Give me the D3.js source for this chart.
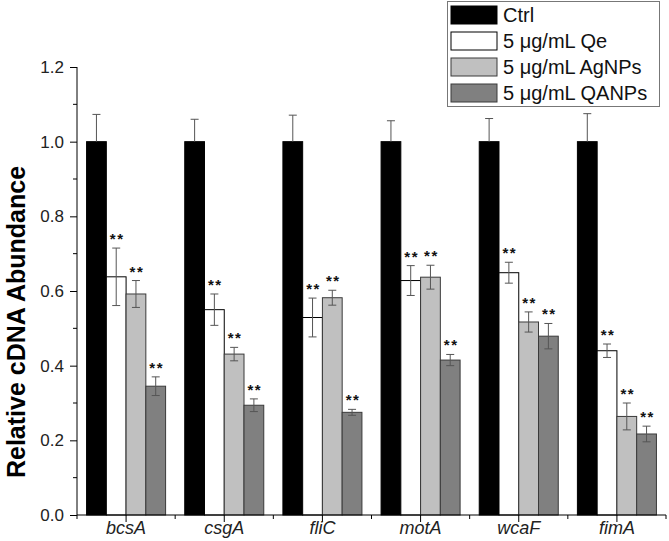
<!DOCTYPE html>
<html><head><meta charset="utf-8">
<script src="https://cdn.jsdelivr.net/npm/d3@7"></script>
<style>body{margin:0;background:#fff}svg{display:block}text{font-family:Arial,"Liberation Sans",sans-serif}</style>
</head><body><svg id="c" width="669" height="541"></svg>
<script>
const categories = ["bcsA","csgA","fliC","motA","wcaF","fimA"];
const seriesNames = ["Ctrl","5 \u03bcg/mL Qe","5 \u03bcg/mL AgNPs","5 \u03bcg/mL QANPs"];
const ctrlValues  = [1.0, 1.0, 1.0, 1.0, 1.0, 1.0];
const ctrlErr     = [0.073, 0.060, 0.071, 0.056, 0.062, 0.075];
const qeValues    = [0.638, 0.550, 0.529, 0.628, 0.649, 0.440];
const qeErr       = [0.077, 0.042, 0.052, 0.040, 0.028, 0.018];
const agValues    = [0.592, 0.431, 0.582, 0.637, 0.517, 0.264];
const agErr       = [0.036, 0.018, 0.020, 0.032, 0.027, 0.036];
const qaValues    = [0.345, 0.294, 0.275, 0.415, 0.479, 0.217];
const qaErr       = [0.025, 0.017, 0.008, 0.015, 0.034, 0.021];
const significant = [false, true, true, true];
const yTicks = [0, 0.2, 0.4, 0.6, 0.8, 1.0, 1.2];
const yMinorTicks = [0.1, 0.3, 0.5, 0.7, 0.9, 1.1];

const fills = ["#000000", "#ffffff", "#c0c0c0", "#808080"];
const strokes = ["#000000", "#000000", "#3a3a3a", "#3a3a3a"];
const vals = [ctrlValues, qeValues, agValues, qaValues];
const errs = [ctrlErr, qeErr, agErr, qaErr];

const svg = d3.select("#c");
const L = 77, R = 666, T = 67, B = 515;

const x = d3.scaleBand().domain(categories).range([L, R]).paddingInner(0.195).paddingOuter(0.0975);
const xs = d3.scaleBand().domain(d3.range(4)).range([0, x.bandwidth()]);
const y = d3.scaleLinear().domain([0, 1.2]).range([B, T]);

const data = [];
categories.forEach((c, i) => {
  for (let s = 0; s < 4; s++) data.push({c, s, v: vals[s][i], e: errs[s][i]});
});

// bars
svg.append("g").selectAll("rect").data(data).join("rect")
  .attr("x", d => x(d.c) + xs(d.s))
  .attr("y", d => y(d.v))
  .attr("width", xs.bandwidth())
  .attr("height", d => B - y(d.v))
  .attr("fill", d => fills[d.s])
  .attr("stroke", d => strokes[d.s])
  .attr("stroke-width", 1);

// error bars
const eg = svg.append("g").attr("stroke", "#555").attr("stroke-width", 1).attr("fill", "none");
data.forEach(d => {
  const cx = x(d.c) + xs(d.s) + xs.bandwidth() / 2;
  const lo = d.s === 0 ? d.v : d.v - d.e;
  eg.append("line").attr("x1", cx).attr("x2", cx).attr("y1", y(lo)).attr("y2", y(d.v + d.e));
  eg.append("line").attr("x1", cx - 4).attr("x2", cx + 4).attr("y1", y(d.v + d.e)).attr("y2", y(d.v + d.e));
  if (d.s !== 0) eg.append("line").attr("x1", cx - 4).attr("x2", cx + 4).attr("y1", y(d.v - d.e)).attr("y2", y(d.v - d.e));
});

// stars
svg.append("g").selectAll("text").data(data.filter(d => significant[d.s])).join("text")
  .attr("x", d => x(d.c) + xs(d.s) + xs.bandwidth() / 2 + 1)
  .attr("y", d => y(d.v + d.e) - 4)
  .attr("text-anchor", "middle")
  .attr("font-size", 15).attr("font-weight", "bold").attr("fill", "#111")
  .attr("letter-spacing", 1.5)
  .text("**");

// y axis
const ya = svg.append("g").attr("transform", `translate(${L},0)`)
  .call(d3.axisLeft(y).tickValues(yTicks).tickFormat(d3.format(".1f")).tickSize(7).tickPadding(6));
ya.selectAll("text").attr("font-size", 17).attr("fill", "#222").attr("font-family", "Arial, 'Liberation Sans', sans-serif");
ya.selectAll("line,path").attr("stroke", "#000");
ya.select("path").attr("d", `M0,${B}V${T}`);
svg.append("g").attr("transform", `translate(${L},0)`).selectAll("line").data(yMinorTicks).join("line")
  .attr("x1", -4).attr("x2", 0).attr("y1", d => y(d)).attr("y2", d => y(d)).attr("stroke", "#000");

// x axis
const xa = svg.append("g").attr("transform", `translate(0,${B})`)
  .call(d3.axisBottom(x).tickSize(7));
xa.select("path").attr("d", `M${L},0H${R}`).attr("stroke", "#000");
xa.selectAll("line").attr("stroke", "#000");
xa.selectAll("text").attr("y", 19).attr("dy", 0).attr("font-size", 18).attr("font-style", "italic").attr("fill", "#222").attr("font-family", "Arial, 'Liberation Sans', sans-serif");
svg.append("g").attr("transform", `translate(0,${B})`).selectAll("line").data(d3.range(categories.length + 1)).join("line")
  .attr("x1", i => L + i * x.step()).attr("x2", i => L + i * x.step())
  .attr("y1", 0).attr("y2", 4).attr("stroke", "#000");

// y title
svg.append("text").attr("transform", `translate(25,322) rotate(-90)`)
  .attr("text-anchor", "middle").attr("font-size", 25).attr("font-weight", "bold").attr("fill", "#000")
  .text("Relative cDNA Abundance");

// legend
const lg = svg.append("g");
lg.append("rect").attr("x", 447.5).attr("y", 1.5).attr("width", 212).attr("height", 105)
  .attr("fill", "#fff").attr("stroke", "#777");
seriesNames.forEach((n, i) => {
  const yy = 6 + i * 26;
  lg.append("rect").attr("x", 451).attr("y", yy).attr("width", 46).attr("height", 18)
    .attr("fill", fills[i]).attr("stroke", strokes[i]);
  lg.append("text").attr("x", 503).attr("y", yy + 16).attr("font-size", 20).attr("fill", "#111").text(n);
});
</script></body></html>
